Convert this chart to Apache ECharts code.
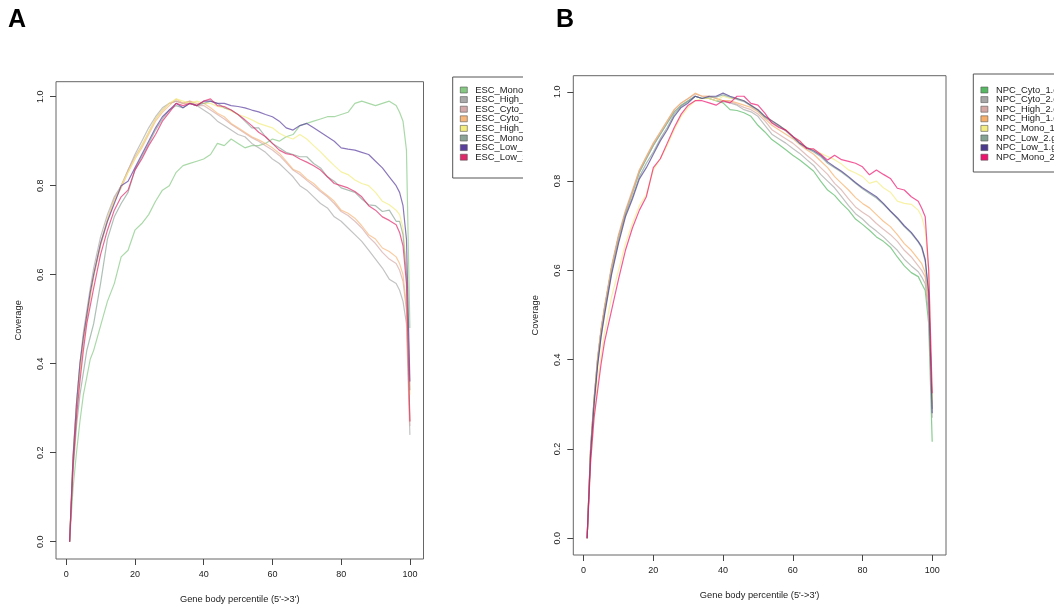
<!DOCTYPE html>
<html><head><meta charset="utf-8">
<script src="https://cdn.jsdelivr.net/npm/echarts@6/dist/echarts.min.js"></script>
<style>
html,body{margin:0;padding:0;background:#fff;width:1060px;height:610px;overflow:hidden}
#pa{position:absolute;left:0;top:0;width:523px;height:610px}
#pb{position:absolute;left:523px;top:0;width:531px;height:610px}
</style>
</head><body><div id="pa"></div><div id="pb"></div>
<script>
// Gene body percentile positions
const pct = [1,2,3,4,5,6,7,8,10,12,14,16,18,20,22,24,26,28,30,32,34,36,38,40,42,44,46,48,50,52,54,56,58,60,62,64,66,68,70,72,74,76,78,80,82,84,86,88,90,92,94,96,97,98,99,100];
const xTicks = [0,20,40,60,80,100];
const yTicks = [0,0.2,0.4,0.6,0.8,1.0];

// Panel A (ESC)
const escNames = ['ESC_Mono_1.geneBodyCoverage.txt','ESC_High_2.geneBodyCoverage.txt','ESC_Cyto_1.geneBodyCoverage.txt','ESC_Cyto_2.geneBodyCoverage.txt','ESC_High_1.geneBodyCoverage.txt','ESC_Mono_2.geneBodyCoverage.txt','ESC_Low_1.geneBodyCoverage.txt','ESC_Low_2.geneBodyCoverage.txt'];
const escColors = ['#86c983','#a9a9a9','#d5a9a9','#f7b77a','#f2ec7c','#8aa597','#5a3f9f','#e0286a'];
const escMono1 = [0,0.12,0.20,0.27,0.33,0.37,0.41,0.43, 0.485,0.54,0.58,0.64,0.655,0.70,0.715,0.735,0.765,0.79,0.80, 0.83,0.845,0.85,0.855,0.86,0.87,0.895,0.89,0.905,0.895, 0.885,0.89,0.89,0.895,0.905,0.90,0.91,0.915,0.935,0.94, 0.945,0.95,0.955,0.955,0.96,0.965,0.985,0.99,0.985,0.98,0.985,0.99, 0.98,0.965,0.945,0.88,0.48];
const escHigh2 = [0,0.19,0.31,0.40,0.47,0.52,0.57,0.615, 0.685,0.735,0.775,0.80,0.835,0.87,0.90,0.93,0.955,0.975,0.985, 0.99,0.985,0.99,0.98,0.97,0.96,0.945,0.935,0.925,0.915, 0.91,0.895,0.885,0.875,0.86,0.85,0.835,0.82,0.80,0.79, 0.775,0.76,0.75,0.73,0.72,0.705,0.69,0.675,0.655,0.635,0.615,0.59, 0.58,0.565,0.54,0.49,0.24];
const escCyto1 = [0,0.18,0.30,0.385,0.455,0.505,0.555,0.60, 0.67,0.725,0.77,0.80,0.835,0.865,0.89,0.92,0.95,0.97,0.985, 0.99,0.985,0.985,0.98,0.98,0.97,0.96,0.95,0.938,0.928, 0.918,0.908,0.90,0.89,0.88,0.868,0.852,0.835,0.825,0.812, 0.80,0.787,0.775,0.76,0.742,0.733,0.72,0.705,0.685,0.67,0.65,0.635, 0.625,0.61,0.585,0.52,0.26];
const escCyto2 = [0,0.18,0.30,0.38,0.45,0.50,0.55,0.595, 0.665,0.72,0.765,0.795,0.83,0.86,0.885,0.915,0.945,0.965,0.98, 0.995,0.985,0.99,0.985,0.985,0.975,0.963,0.955,0.94,0.93, 0.92,0.91,0.903,0.895,0.885,0.873,0.855,0.837,0.83,0.815, 0.805,0.79,0.778,0.765,0.745,0.738,0.727,0.71,0.69,0.68,0.66,0.652, 0.64,0.625,0.60,0.53,0.27];
const escHigh1 = [0,0.19,0.31,0.39,0.46,0.51,0.555,0.60, 0.67,0.725,0.765,0.80,0.83,0.86,0.89,0.92,0.95,0.97,0.985, 0.995,0.99,0.985,0.99,0.985,0.985,0.978,0.975,0.968,0.96, 0.955,0.948,0.94,0.935,0.93,0.918,0.91,0.905,0.915,0.905, 0.89,0.876,0.86,0.845,0.831,0.825,0.813,0.805,0.80,0.785,0.765,0.757, 0.745,0.735,0.705,0.62,0.33];
const escMono2 = [0,0.16,0.26,0.33,0.38,0.43,0.46,0.49, 0.58,0.68,0.73,0.76,0.785,0.835,0.865,0.895,0.925,0.95,0.97, 0.98,0.975,0.985,0.98,0.985,0.99,0.985,0.975,0.97,0.96, 0.945,0.93,0.93,0.91,0.895,0.885,0.875,0.87,0.865,0.865, 0.85,0.84,0.82,0.81,0.795,0.79,0.785,0.77,0.757,0.755,0.742,0.745, 0.72,0.72,0.69,0.60,0.34];
const escLow1 = [0,0.19,0.31,0.40,0.46,0.51,0.56,0.60, 0.67,0.72,0.76,0.80,0.81,0.84,0.87,0.90,0.93,0.955,0.97, 0.985,0.975,0.985,0.98,0.99,0.99,0.985,0.985,0.98,0.978, 0.975,0.97,0.966,0.96,0.955,0.945,0.93,0.925,0.935,0.94, 0.93,0.92,0.91,0.90,0.885,0.882,0.88,0.875,0.87,0.855,0.84,0.82, 0.80,0.785,0.755,0.68,0.36];
const escLow2 = [0,0.17,0.28,0.36,0.43,0.49,0.53,0.57, 0.645,0.70,0.745,0.775,0.79,0.835,0.86,0.89,0.915,0.945,0.965, 0.985,0.98,0.985,0.98,0.99,0.995,0.98,0.978,0.97,0.96, 0.948,0.935,0.92,0.91,0.895,0.88,0.872,0.869,0.86,0.853, 0.845,0.835,0.82,0.805,0.80,0.795,0.787,0.775,0.755,0.745,0.73,0.722, 0.712,0.695,0.665,0.58,0.27];

// Panel B (NPC)
const npcNames = ['NPC_Cyto_1.geneBodyCoverage.txt','NPC_Cyto_2.geneBodyCoverage.txt','NPC_High_2.geneBodyCoverage.txt','NPC_High_1.geneBodyCoverage.txt','NPC_Mono_1.geneBodyCoverage.txt','NPC_Low_2.geneBodyCoverage.txt','NPC_Low_1.geneBodyCoverage.txt','NPC_Mono_2.geneBodyCoverage.txt'];
const npcColors = ['#56b862','#a6a6a6','#d6a8a4','#f6ae68','#f3ec80','#85a392','#4b3a8e','#f0136e'];
const npcCyto1 = [0,0.20,0.31,0.40,0.465,0.515,0.56,0.605, 0.675,0.73,0.775,0.82,0.85,0.88,0.905,0.93,0.955,0.97,0.98, 0.99,0.985,0.985,0.98,0.975,0.96,0.958,0.953,0.945,0.925, 0.91,0.893,0.882,0.87,0.858,0.847,0.835,0.822,0.80,0.78, 0.768,0.75,0.735,0.715,0.703,0.69,0.675,0.665,0.652,0.63,0.61,0.595, 0.586,0.57,0.555,0.48,0.216];
const npcCyto2 = [0,0.20,0.31,0.40,0.465,0.515,0.56,0.605, 0.675,0.73,0.775,0.82,0.85,0.88,0.905,0.93,0.955,0.97,0.98, 0.99,0.985,0.985,0.98,0.978,0.975,0.97,0.96,0.955,0.945, 0.925,0.905,0.895,0.885,0.873,0.862,0.848,0.835,0.815,0.80, 0.785,0.765,0.745,0.727,0.715,0.70,0.688,0.675,0.66,0.645,0.625,0.61, 0.597,0.585,0.57,0.50,0.27];
const npcHigh2 = [0,0.205,0.315,0.405,0.47,0.52,0.565,0.61, 0.68,0.735,0.78,0.825,0.855,0.885,0.91,0.935,0.96,0.975,0.985, 0.995,0.99,0.99,0.985,0.98,0.978,0.972,0.965,0.96,0.95, 0.935,0.915,0.905,0.895,0.885,0.872,0.858,0.845,0.83,0.815, 0.795,0.78,0.76,0.742,0.73,0.72,0.705,0.692,0.68,0.665,0.645,0.63, 0.61,0.60,0.585,0.52,0.29];
const npcHigh1 = [0,0.20,0.31,0.40,0.465,0.515,0.56,0.605, 0.675,0.73,0.775,0.825,0.855,0.885,0.91,0.935,0.96,0.975,0.985, 0.997,0.99,0.99,0.985,0.98,0.98,0.975,0.97,0.965,0.955, 0.94,0.925,0.915,0.905,0.895,0.882,0.87,0.86,0.845,0.83, 0.81,0.795,0.78,0.763,0.75,0.74,0.725,0.71,0.698,0.68,0.66,0.645, 0.625,0.615,0.595,0.53,0.30];
const npcMono1 = [0,0.17,0.27,0.35,0.41,0.46,0.50,0.54, 0.60,0.66,0.705,0.745,0.77,0.825,0.85,0.88,0.915,0.945,0.965, 0.98,0.985,0.985,0.98,0.99,0.985,0.985,0.98,0.97,0.96, 0.945,0.935,0.925,0.915,0.90,0.89,0.875,0.87,0.862,0.855, 0.848,0.838,0.825,0.818,0.81,0.795,0.80,0.785,0.775,0.755,0.75,0.748, 0.735,0.72,0.69,0.60,0.31];
const npcLow2 = [0,0.19,0.305,0.39,0.455,0.505,0.55,0.595, 0.665,0.725,0.765,0.81,0.84,0.865,0.895,0.92,0.95,0.968,0.978, 0.99,0.985,0.988,0.988,0.993,0.988,0.983,0.978,0.968,0.958, 0.943,0.932,0.922,0.912,0.898,0.884,0.873,0.865,0.855,0.84, 0.83,0.82,0.808,0.795,0.783,0.772,0.762,0.748,0.732,0.716,0.698,0.683, 0.663,0.65,0.62,0.545,0.29];
const npcLow1 = [0,0.19,0.30,0.385,0.45,0.50,0.545,0.59, 0.66,0.72,0.76,0.805,0.83,0.86,0.89,0.915,0.945,0.965,0.975, 0.99,0.985,0.99,0.99,0.997,0.99,0.985,0.98,0.97,0.96, 0.945,0.935,0.925,0.914,0.90,0.885,0.875,0.868,0.858,0.843, 0.832,0.822,0.81,0.797,0.785,0.775,0.765,0.75,0.733,0.718,0.70,0.685, 0.665,0.653,0.625,0.55,0.28];
const npcMono2 = [0,0.17,0.27,0.33,0.39,0.44,0.475,0.51, 0.58,0.645,0.695,0.735,0.765,0.83,0.85,0.885,0.92,0.95,0.97, 0.98,0.98,0.975,0.97,0.98,0.975,0.99,0.99,0.974,0.97, 0.952,0.93,0.92,0.914,0.90,0.89,0.873,0.872,0.86,0.847, 0.858,0.848,0.844,0.84,0.832,0.814,0.825,0.815,0.806,0.784,0.78,0.765, 0.755,0.739,0.72,0.60,0.325];

const FONT = '"Liberation Sans", Arial, Helvetica, sans-serif';
const TXT = '#222';

function panel(letter, letterX, names, data, colors, g, lg) {
  return {
    animation: false,
    title: { text: letter, left: letterX, top: 8, padding: 0,
      textStyle: { fontSize: 25, fontWeight: 'bold', color: '#000', fontFamily: FONT } },
    grid: { left: g.left, top: g.top, width: g.width, height: g.height, show: true,
      borderColor: '#666', borderWidth: 1, backgroundColor: 'transparent' },
    legend: {
      orient: 'vertical', left: lg.left, top: lg.top, padding: lg.padding,
      itemWidth: 7, itemHeight: 6, itemGap: 0, icon: 'rect', selectedMode: false,
      borderColor: '#555', borderWidth: 1, borderRadius: 0, data: names,
      textStyle: { fontSize: 9.4, lineHeight: 9.6, color: TXT, fontFamily: FONT, padding: [0,0,0,3] },
      itemStyle: { borderColor: '#555', borderWidth: 0.6 }
    },
    xAxis: {
      type: 'value', min: -2.96, max: 103.96,
      name: "Gene body percentile (5'->3')", nameLocation: 'middle', nameGap: 36,
      nameTextStyle: { fontSize: 9.3, color: TXT, fontFamily: FONT },
      axisLine: { show: false, onZero: false }, splitLine: { show: false },
      axisTick: { show: true, inside: false, length: 6, customValues: xTicks, lineStyle: { color: '#444' } },
      axisLabel: { customValues: xTicks, margin: 11, fontSize: 9, color: TXT, fontFamily: FONT }
    },
    yAxis: {
      type: 'value', min: g.ymin, max: g.ymax,
      name: 'Coverage', nameLocation: 'middle', nameGap: 33, nameRotate: 90,
      nameTextStyle: { fontSize: 9.3, color: TXT, fontFamily: FONT },
      axisLine: { show: false, onZero: false }, splitLine: { show: false },
      axisTick: { show: true, inside: false, length: 6, customValues: yTicks, lineStyle: { color: '#444' } },
      axisLabel: { customValues: yTicks, rotate: 90, margin: 11, fontSize: 9, color: TXT, fontFamily: FONT,
        formatter: v => v.toFixed(1) }
    },
    series: names.map((n, i) => ({
      type: 'line', name: n, symbol: 'none', showSymbol: false, silent: true,
      data: pct.map((x, j) => [x, data[i][j]]),
      itemStyle: { color: colors[i] },
      lineStyle: { width: 1.2, color: colors[i], opacity: 0.7 },
      emphasis: { disabled: true }
    }))
  };
}

const chartA = echarts.init(document.getElementById('pa'));
chartA.setOption(panel('A', 8, escNames,
  [escMono1, escHigh2, escCyto1, escCyto2, escHigh1, escMono2, escLow1, escLow2], escColors,
  { left: 56, top: 81.7, width: 367.5, height: 477.3, ymin: -0.0389, ymax: 1.0337 },
  { left: 452.7, top: 77, padding: [8.2, 4, 16, 7.3] }));

const chartB = echarts.init(document.getElementById('pb'));
chartB.setOption(panel('B', 33, npcNames,
  [npcCyto1, npcCyto2, npcHigh2, npcHigh1, npcMono1, npcLow2, npcLow1, npcMono2], npcColors,
  { left: 50.3, top: 75.7, width: 372.7, height: 479.3, ymin: -0.0374, ymax: 1.036 },
  { left: 450.3, top: 74, padding: [11.2, 4, 10, 7.3] }));
</script>
</body></html>
